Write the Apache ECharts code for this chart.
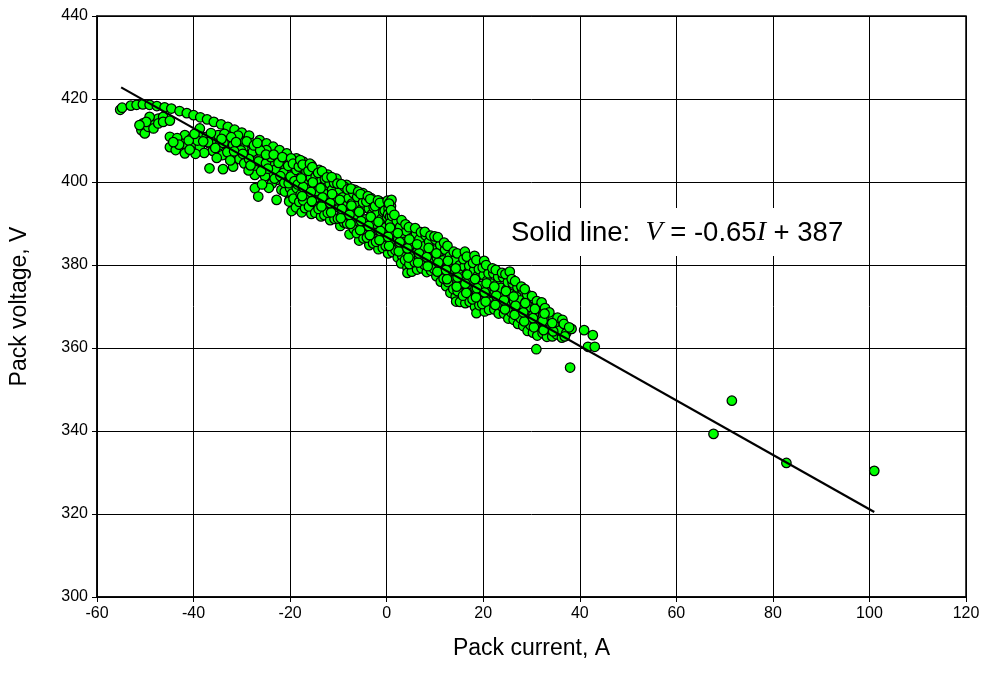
<!DOCTYPE html>
<html>
<head>
<meta charset="utf-8">
<script src="https://cdn.jsdelivr.net/npm/echarts@6/dist/echarts.min.js"></script>
<style>
html,body{margin:0;padding:0;background:#fff;}
#chart{width:983px;height:674px;}
</style>
</head>
<body>
<div id="chart"></div>
<script>
// Axis ticks
var xTicks = [-60, -40, -20, 0, 20, 40, 60, 80, 100, 120];
var yTicks = [300, 320, 340, 360, 380, 400, 420, 440];

// Fitted line endpoints [current A, voltage V]
var fitLine = [[-55, 422.8], [101, 320.5]];

// Upper arc of points
var upperArc = [
  [-55.2,417.4],[-54.8,417.9],[-53,418.4],[-51.8,418.6],[-50.5,418.7],[-49.1,418.6],[-47.6,418.3],[-46,418.0],
  [-44.6,417.7],[-42.9,417.1],[-41.4,416.6],[-40,416.1],[-38.6,415.6],[-37.2,415.1],[-35.8,414.5],[-34.3,413.9],
  [-32.9,413.3],[-31.5,412.6],[-30,411.9],[-28.5,411.2],[-26.3,410.1],[-24.9,409.3],[-23.5,408.5],[-22.2,407.7],
  [-20.6,406.5],[-18.7,405.7],[-17.3,404.9],[-15.6,404.1],[-14,402.9],[-12.2,401.8],[-10.4,400.8],[-8.3,399.3],
  [-6.6,398.1],[-4.9,397.3],[-3.2,396.1],[-1.4,395.3]
];

// Small lower arc near -50 A
var lowerArc = [
  [-50.5,414.1],[-50.8,412.5],[-50.1,411.7],[-49.4,413.3],[-48.3,414.5],[-48.3,412.9],[-47.3,415.3],[-47.3,414.1],
  [-46.3,415.7],[-46.3,414.5],[-44.9,414.8],[-49.1,415.7],[-49.8,414.5],[-51.2,413.7]
];

// Cluster between -45 A and -18 A
var chargeCluster = [
  [-44.9,410.9],[-44.9,408.4],[-43.7,407.7],[-42.9,410.1],[-41.8,411.3],[-41.8,408.9],[-40.4,410.5],[-40.1,409.3],
  [-38.7,412.9],[-38.7,408.5],[-38.4,410.9],[-37.3,410.9],[-36.7,409.3],[-35.6,410.1],[-34.9,411.3],[-34.6,408.9],
  [-33.2,410.1],[-32.9,408.1],[-31.8,408.9],[-31.1,406.9],[-30.4,410.1],[-29.7,408.1],[-29,406.1],[-28,409.3],
  [-27.7,407.3],[-27.3,404.9],[-27,402.9],[-27.3,401.7],[-25.9,406.1],[-25.6,403.7],[-24.9,407.7],[-24.2,402.1],
  [-23.5,404.9],[-22.8,400.5],[-22.2,402.9],[-21.8,398.1],[-20.7,406.9],[-20.1,401.3],[-19.3,403.7],[-18.7,395.7],
  [-18.4,398.9],[-41.8,406.9],[-36.7,403.3],[-33.9,403.1],[-31.8,403.7],[-27.3,398.5],[-26.6,396.5],[-22.8,395.7],
  [-21.1,397.7],[-20.1,395.7],[-19.4,393.3],[-36,407.5],[-34,406.5],[-33,407.2],[-30.5,405.5],[-29.5,404.5],
  [-28.5,405.5],[-26.5,405],[-25,404.5],[-24,406],[-23,403],[-22,405.5],[-21,403.8],[-20.5,400],[-20,398.5],
  [-23.8,399.6],[-25.2,401.4],[-28.6,402.8],[-30.2,407.6],[-32.4,405.2],[-35.2,405.8],[-37.8,407],[-39.6,406.8],
  [-42.2,409.2],[-43.4,410.6],[-39.2,410],[-36.4,411.8],[-33.6,411.6],[-30.8,411.2],
  [-43,409],[-41,410],[-39.8,411.6],[-37,409.6],[-35.5,408.2],[-33.8,409.4],[-32.2,410.8],[-31.2,409.6],
  [-29,409.8],[-27.5,408.8],[-26.2,407.6],[-25,406.6],[-23.4,406.6],[-22.4,404.6],[-21.4,402.2],[-21.6,406],
  [-24.6,403.2],[-26,402.6],[-28.2,404],[-44.2,409.6],[-40.8,407.8],[-38,409.8],[-34.2,410.4],[-31.6,407.4],
  [-29.8,406.8],[-26.8,409.4],[-23.2,400.8],[-24.4,398.6],[-25.8,399.4],[-22,401.4],[-21.2,399.8]
];

// Main band of points
var mainBand = [
  [-19.7,393.0],[-20.2,395.3],[-19.6,397.2],[-20.3,399.7],[-19.9,401.3],[-20.4,403.9],[-19.8,405.7],
  [-18.8,393.9],[-19.3,396.0],[-18.6,398.5],[-19.1,400.2],[-18.7,402.9],[-19.4,404.4],
  [-17.6,392.7],[-18.1,395.2],[-17.8,397.0],[-18.4,399.4],[-17.7,401.2],[-18.2,403.7],[-17.9,405.3],
  [-16.9,393.7],[-17.3,395.6],[-16.5,398.1],[-17.1,399.9],[-16.6,402.5],[-17.4,404.2],
  [-15.6,392.3],[-16.1,394.1],[-15.8,396.7],[-16.4,398.4],[-15.7,401.0],[-16.2,402.7],[-15.9,404.4],
  [-14.8,392.6],[-15.3,395.2],[-14.5,397.0],[-15.1,399.6],[-14.7,401.3],[-15.4,403.6],
  [-13.6,391.7],[-14.1,393.5],[-13.8,396.1],[-14.4,397.8],[-13.5,400.4],[-14.2,402.2],
  [-12.9,392.0],[-13.3,394.6],[-12.6,396.4],[-13.1,399.0],[-12.8,400.7],[-13.4,402.6],
  [-11.7,390.8],[-12.2,392.6],[-11.5,395.2],[-12.3,397.1],[-11.8,399.6],[-12.4,401.1],
  [-10.8,391.1],[-11.2,393.7],[-10.6,395.5],[-11.3,398.1],[-10.9,399.8],[-11.4,401.2],
  [-9.6,389.4],[-10.1,391.2],[-9.8,393.8],[-10.3,395.6],[-9.7,398.1],[-10.2,399.6],
  [-8.8,390.2],[-9.3,392.0],[-8.5,394.6],[-9.1,396.3],[-8.7,398.8],[-9.4,399.5],
  [-7.7,387.4],[-8.2,390.0],[-7.6,391.8],[-8.4,394.4],[-7.9,396.1],[-8.1,398.2],
  [-6.8,388.7],[-7.3,390.4],[-6.6,393.0],[-7.2,394.8],[-6.9,397.3],[-7.4,398.4],
  [-5.7,385.9],[-6.2,387.7],[-5.6,390.3],[-6.3,392.1],[-5.8,394.7],[-6.1,396.4],[-5.9,397.7],
  [-4.8,386.4],[-5.3,389.0],[-4.6,390.8],[-5.2,393.4],[-4.9,395.1],[-5.4,397.1],
  [-3.6,384.8],[-4.1,386.6],[-3.8,389.2],[-4.4,391.0],[-3.7,393.6],[-4.2,395.3],[-3.9,396.6],
  [-2.8,385.2],[-3.3,387.8],[-2.6,389.6],[-3.1,392.2],[-2.7,393.9],[-3.4,395.9],
  [-1.7,383.8],[-2.2,385.6],[-1.6,388.2],[-2.3,390.0],[-1.9,392.6],[-2.4,394.2],[-1.8,395.6],
  [-0.8,384.1],[-1.3,386.7],[-0.6,388.5],[-1.1,391.1],[-0.7,392.8],[-1.4,395.0],
  [0.3,382.8],[-0.2,384.6],[0.4,387.2],[-0.3,389.0],[0.1,391.5],[-0.4,393.1],
  [0.2,395.5],[0.6,395.0],[0.9,394.2],[0.4,393.6],[0.8,392.8],[0.3,392.2],[0.7,391.6],[1.0,395.7],[0.5,394.8],
  [1.2,383.1],[0.8,385.7],[1.4,387.5],[0.7,390.1],[1.1,391.8],[0.9,393.2],
  [2.3,381.8],[1.8,383.6],[2.4,386.2],[1.7,388.0],[2.1,390.6],[1.6,392.1],
  [3.2,382.2],[2.7,384.8],[3.4,386.6],[2.8,389.2],[3.1,390.8],[3.0,380.4],
  [4.3,379.4],[3.8,381.2],[4.4,383.8],[3.7,385.6],[4.1,388.2],[3.9,389.8],[4.3,378.1],
  [5.2,378.4],[4.7,380.2],[5.4,382.1],[4.8,384.7],[5.1,386.5],[4.6,389.1],
  [6.3,378.9],[5.8,380.7],[6.4,383.3],[5.7,385.1],[6.1,387.6],[5.9,388.9],
  [7.2,379.2],[6.7,381.8],[7.4,383.6],[6.8,386.2],[7.1,387.9],
  [8.3,378.3],[7.8,380.1],[8.4,382.7],[7.7,384.5],[8.1,387.1],[7.9,388.0],
  [9.2,378.6],[8.7,381.2],[9.4,383.0],[8.8,385.6],[9.1,387.1],
  [10.3,377.3],[9.8,379.1],[10.4,381.7],[9.7,383.5],[10.1,386.1],[9.9,386.9],
  [11.2,376.0],[10.7,378.6],[11.4,380.4],[10.8,383.0],[11.1,384.8],[10.6,386.7],
  [12.3,374.9],[11.8,376.7],[12.4,379.3],[11.7,381.1],[12.1,383.7],[11.9,385.4],
  [13.2,373.3],[12.7,375.9],[13.4,377.7],[12.8,380.3],[13.1,382.1],[12.6,384.6],
  [14.3,372.4],[13.8,374.2],[14.4,376.8],[13.7,378.6],[14.1,381.2],[13.9,383.2],[14.4,371.2],
  [15.2,371.1],[14.7,373.7],[15.4,375.5],[14.8,378.1],[15.1,379.9],[14.6,382.8],
  [16.3,370.8],[15.8,372.6],[16.4,375.2],[15.7,377.0],[16.1,379.6],[15.9,381.4],[16.2,383.2],
  [17.2,371.1],[16.7,373.7],[17.4,375.5],[16.8,378.1],[17.1,379.8],[16.6,382.0],
  [18.3,369.9],[17.8,371.7],[18.4,374.3],[17.7,376.1],[18.1,378.7],[17.9,380.5],[18.2,382.2],[18.6,368.4],
  [19.2,370.3],[18.7,372.9],[19.4,374.7],[18.8,377.3],[19.1,379.0],[18.6,381.2],
  [20.3,368.8],[19.8,370.6],[20.4,373.2],[19.7,375.0],[20.1,377.6],[19.9,379.4],[20.2,381.0],
  [21.2,369.2],[20.7,371.8],[21.4,373.6],[20.8,376.2],[21.1,378.0],[20.6,380.0],
  [22.3,369.3],[21.8,371.1],[22.4,373.7],[21.7,375.5],[22.1,378.0],[21.9,379.2],
  [23.2,368.3],[22.7,370.9],[23.4,372.7],[22.8,375.3],[23.1,377.1],[22.6,378.8],
  [24.3,368.3],[23.8,370.1],[24.4,372.7],[23.7,374.5],[24.1,377.1],[23.9,378.1],
  [25.2,367.1],[24.7,369.7],[25.4,371.5],[24.8,374.1],[25.1,375.9],[24.6,377.8],[25.5,378.4],
  [26.3,366.8],[25.8,368.6],[26.4,371.2],[25.7,373.0],[26.1,375.6],[25.9,376.6],
  [27.2,365.8],[26.7,368.4],[27.4,370.2],[26.8,372.8],[27.1,374.6],[26.6,376.1],
  [28.3,365.3],[27.8,367.1],[28.4,369.7],[27.7,371.5],[28.1,374.1],[27.9,374.8],
  [29.2,364.1],[28.7,366.7],[29.4,368.5],[28.8,371.1],[29.1,372.9],[28.6,374.2],
  [30.3,363.7],[29.8,365.5],[30.4,368.1],[29.7,369.9],[30.1,372.5],
  [31.2,363.0],[30.7,365.6],[31.4,367.4],[30.8,370.0],[31.1,371.3],
  [32.3,363.6],[31.8,365.4],[32.4,368.0],[31.7,369.8],[32.1,371.0],
  [33.2,362.7],[32.7,365.3],[33.4,367.1],[32.8,369.6],
  [34.3,362.8],[33.8,364.6],[34.4,367.2],[33.7,368.6],
  [35.2,363.3],[34.7,365.7],[35.4,367.3],
  [36.3,362.5],[35.8,364.2],[36.4,366.8],
  [37.2,363.6],[36.7,365.8],
  [38.3,364.6],[37.8,365.0]
];

// Dense core of the band
var coreBand = [
  [-17.5,396.6],[-17.3,398.8],[-17.7,400.9],[-15.5,395.4],[-15.7,397.6],[-15.3,399.9],
  [-13.5,394.1],[-13.3,396.3],[-13.7,398.5],[-11.5,392.7],[-11.7,394.9],[-11.3,397.1],
  [-9.5,391.3],[-9.3,393.5],[-9.7,395.7],[-7.5,389.9],[-7.7,392.1],[-7.3,394.3],
  [-5.5,388.4],[-5.3,390.6],[-5.7,392.8],[-3.5,387.2],[-3.7,389.4],[-3.3,391.6],
  [-1.5,386.0],[-1.3,388.2],[-1.7,390.4],[0.5,384.6],[0.3,386.8],[0.7,389.0],
  [2.5,383.3],[2.7,385.5],[2.3,387.7],[4.5,381.8],[4.3,384.0],[4.7,386.2],
  [6.5,380.6],[6.7,382.8],[6.3,385.0],[8.5,379.7],[8.3,381.9],[8.7,384.1],
  [10.5,378.4],[10.7,380.6],[10.3,382.8],[12.5,376.6],[12.3,378.8],[12.7,381.0],
  [14.5,374.8],[14.7,377.0],[14.3,379.2],[16.5,373.3],[16.3,375.5],[16.7,377.7],
  [18.5,372.2],[18.7,374.4],[18.3,376.6],[20.5,371.2],[20.3,373.4],[20.7,375.6],
  [22.5,370.4],[22.7,372.6],[22.3,374.8],[24.5,369.3],[24.3,371.5],[24.7,373.7],
  [26.5,368.0],[26.7,370.2],[26.3,372.4],[28.5,366.4],[28.3,368.6],[28.7,370.8],
  [30.5,365.0],[30.3,367.2],[30.7,369.4],[32.5,364.3],[32.3,366.5],[32.7,368.3],
  [34.5,364.0],[34.3,366.0]
];

// Isolated points
var outliers = [
  [38.0,355.3],[31.0,359.7],[40.9,364.3],[42.7,363.1],[41.7,360.3],[43.1,360.3],[36.9,362.8],
  [67.7,339.3],[71.5,347.3],[82.8,332.3],[101.0,330.4]
];

var allPoints = [].concat(upperArc, lowerArc, chargeCluster, mainBand, coreBand, outliers);

var chart = echarts.init(document.getElementById('chart'), null, {renderer: 'canvas'});
var FONT = '"Liberation Sans", Arial, sans-serif';

var option = {
  animation: false,
  backgroundColor: '#ffffff',
  grid: {left: 97, right: 17, top: 16, bottom: 77, show: true, borderColor: '#000', borderWidth: 1.5, backgroundColor: 'transparent'},
  xAxis: {
    type: 'value', min: -60, max: 120, interval: 20,
    name: 'Pack current, A', nameLocation: 'middle', nameGap: 40,
    nameTextStyle: {fontFamily: FONT, fontSize: 23, color: '#000'},
    axisLine: {show: true, onZero: false, lineStyle: {color: '#000', width: 1.5}},
    axisTick: {show: true, length: 5, lineStyle: {color: '#000', width: 1}},
    axisLabel: {fontFamily: FONT, fontSize: 16, color: '#000', margin: 9, formatter: function(v){return xTicks.indexOf(v) >= 0 ? String(v) : '';}},
    splitLine: {show: true, lineStyle: {color: '#000', width: 1}}
  },
  yAxis: {
    type: 'value', min: 300, max: 440, interval: 20,
    name: 'Pack voltage, V', nameLocation: 'middle', nameGap: 66, nameRotate: 90,
    nameTextStyle: {fontFamily: FONT, fontSize: 23, color: '#000'},
    axisLine: {show: true, onZero: false, lineStyle: {color: '#000', width: 1.5}},
    axisTick: {show: true, length: 5, lineStyle: {color: '#000', width: 1}},
    axisLabel: {fontFamily: FONT, fontSize: 16, color: '#000', margin: 9, formatter: function(v){return yTicks.indexOf(v) >= 0 ? String(v) : '';}},
    splitLine: {show: true, lineStyle: {color: '#000', width: 1}}
  },
  series: [
    {
      type: 'scatter', data: allPoints, symbol: 'circle', symbolSize: 9.5,
      itemStyle: {color: '#00ff00', borderColor: '#000', borderWidth: 1.25, opacity: 1},
      z: 3
    },
    {
      type: 'line', data: fitLine, symbol: 'none',
      lineStyle: {color: '#000', width: 2.2}, z: 4
    }
  ],
  graphic: [
    {
      type: 'rect', left: 492, top: 208, z: 50,
      shape: {width: 372, height: 48},
      style: {fill: '#fff', stroke: null}
    },
    {
      type: 'text', left: 511, top: 219, z: 51,
      style: {
        text: '{a|Solid line:  }{b|V}{a| = -0.65}{b|I}{a| + 387}',
        rich: {
          a: {fontFamily: FONT, fontSize: 27.5, fill: '#000'},
          b: {fontFamily: '"Liberation Serif", "Times New Roman", serif', fontStyle: 'italic', fontSize: 28, fill: '#000'}
        }
      }
    }
  ]
};
chart.setOption(option);
</script>
</body>
</html>
